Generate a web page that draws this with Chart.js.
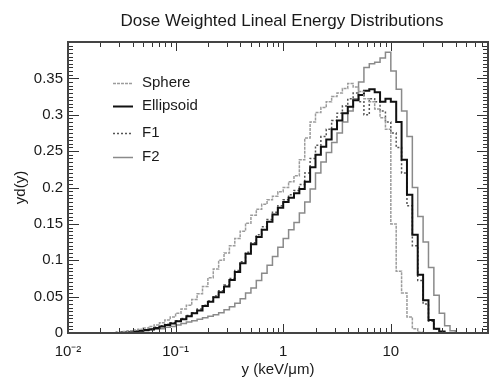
<!DOCTYPE html>
<html>
<head>
<meta charset="utf-8">
<script src="https://cdn.jsdelivr.net/npm/chart.js@4"></script>
<style>
  html, body { margin: 0; padding: 0; background: #fff; }
  #wrap { width: 492px; height: 380px; }
</style>
</head>
<body>
<div id="wrap"><canvas id="chart" width="492" height="380"></canvas></div>
<script>
// histogram bins: log10(y) from -1.6 in steps of 0.05 (20 bins per decade)
const BIN_START = -1.6;
const BIN_STEP = 0.05;

const sphere = [
  0.000, 0.001, 0.002, 0.003, 0.004, 0.005, 0.007, 0.009,
  0.011, 0.014, 0.018, 0.022, 0.027, 0.033, 0.038, 0.046,
  0.054, 0.064, 0.076, 0.088, 0.100, 0.110, 0.120, 0.130,
  0.140, 0.151, 0.162, 0.170, 0.177, 0.183, 0.188, 0.194,
  0.200, 0.208, 0.216, 0.238, 0.268, 0.290, 0.303, 0.310,
  0.318, 0.325, 0.330, 0.336, 0.343, 0.338, 0.332, 0.322,
  0.318, 0.308, 0.296, 0.280, 0.150, 0.085, 0.055, 0.022,
  0.006, 0.001, 0, 0, 0, 0, 0, 0,
  0
];
const ellipsoid = [
  0.000, 0.000, 0.001, 0.001, 0.002, 0.003, 0.004, 0.005,
  0.007, 0.009, 0.011, 0.013, 0.016, 0.019, 0.023, 0.027,
  0.031, 0.037, 0.043, 0.049, 0.056, 0.064, 0.073, 0.084,
  0.096, 0.109, 0.122, 0.132, 0.142, 0.153, 0.163, 0.172,
  0.180, 0.186, 0.192, 0.198, 0.208, 0.228, 0.245, 0.256,
  0.266, 0.280, 0.292, 0.302, 0.311, 0.320, 0.327, 0.333,
  0.335, 0.331, 0.318, 0.322, 0.318, 0.290, 0.238, 0.190,
  0.135, 0.080, 0.045, 0.018, 0.006, 0.002, 0, 0,
  0
];
const f1 = [
  0.000, 0.001, 0.001, 0.002, 0.002, 0.003, 0.004, 0.006,
  0.008, 0.010, 0.012, 0.014, 0.017, 0.020, 0.024, 0.028,
  0.033, 0.038, 0.044, 0.051, 0.058, 0.066, 0.075, 0.086,
  0.098, 0.111, 0.124, 0.135, 0.146, 0.156, 0.166, 0.175,
  0.183, 0.190, 0.196, 0.204, 0.220, 0.240, 0.258, 0.270,
  0.280, 0.292, 0.302, 0.312, 0.322, 0.330, 0.318, 0.300,
  0.322, 0.318, 0.305, 0.290, 0.275, 0.255, 0.220, 0.175,
  0.120, 0.072, 0.040, 0.016, 0.005, 0.001, 0, 0,
  0
];
const f2 = [
  0.000, 0.000, 0.001, 0.001, 0.002, 0.002, 0.003, 0.004,
  0.005, 0.006, 0.008, 0.009, 0.011, 0.013, 0.015, 0.017,
  0.019, 0.021, 0.023, 0.025, 0.028, 0.032, 0.036, 0.041,
  0.047, 0.055, 0.062, 0.072, 0.082, 0.093, 0.105, 0.118,
  0.130, 0.142, 0.152, 0.165, 0.180, 0.198, 0.220, 0.235,
  0.248, 0.262, 0.275, 0.290, 0.305, 0.322, 0.345, 0.365,
  0.370, 0.372, 0.378, 0.386, 0.360, 0.335, 0.305, 0.270,
  0.200, 0.160, 0.125, 0.090, 0.052, 0.027, 0.010, 0.003,
  0
];

const X_TICKS = [0.01, 0.1, 1, 10];
const X_LABELS = ['10\u207B\u00B2', '10\u207B\u00B9', '1', '10'];
const Y_TICKS = [0, 0.05, 0.1, 0.15, 0.2, 0.25, 0.3, 0.35, 0.4];
const Y_LABELS = ['0', '0.05', '0.1', '0.15', '0.2', '0.25', '0.3', '0.35', ''];

const X_MIN = 0.01, X_MAX = 80;
const FONT = "'Liberation Sans', Arial, Helvetica, sans-serif";

function toPoints(vals) {
  const pts = [{ x: X_MIN, y: 0 }];
  vals.forEach((v, i) => pts.push({ x: Math.pow(10, BIN_START + BIN_STEP * i), y: v }));
  pts.push({ x: Math.pow(10, BIN_START + BIN_STEP * vals.length), y: 0 });
  pts.push({ x: X_MAX, y: 0 });
  return pts;
}

function series(label, vals, color, width, dash) {
  return {
    label: label,
    data: toPoints(vals),
    borderColor: color,
    borderWidth: width,
    borderDash: dash,
    stepped: true,
    pointRadius: 0,
    fill: false
  };
}

// ticks inside the box on all four sides, plus frame, title and legend
const boxPlugin = {
  id: 'box',
  afterDatasetsDraw(chart) {
    const { ctx, chartArea: a, scales } = chart;
    ctx.save();
    ctx.strokeStyle = '#333';
    ctx.lineWidth = 1;
    ctx.beginPath();
    for (let d = -2; d <= 1; d++) {
      for (let m = 1; m <= 9; m++) {
        const v = m * Math.pow(10, d);
        if (v < X_MIN || v > X_MAX) continue;
        const px = Math.round(scales.x.getPixelForValue(v)) + 0.5;
        const len = m === 1 ? 9 : 5;
        ctx.moveTo(px, a.bottom); ctx.lineTo(px, a.bottom - len);
        ctx.moveTo(px, a.top); ctx.lineTo(px, a.top + len);
      }
    }
    for (let i = 0; i <= 80; i++) {
      const py = Math.round(scales.y.getPixelForValue(i * 0.005)) + 0.5;
      const len = i % 10 === 0 ? 11 : 5;
      ctx.moveTo(a.left, py); ctx.lineTo(a.left + len, py);
      ctx.moveTo(a.right, py); ctx.lineTo(a.right - len, py);
    }
    ctx.stroke();
    ctx.lineWidth = 2;
    ctx.strokeStyle = '#444';
    ctx.strokeRect(a.left, a.top, a.right - a.left, a.bottom - a.top);
    ctx.restore();
  },
  afterDraw(chart) {
    const { ctx, chartArea: a } = chart;
    ctx.save();
    ctx.fillStyle = '#1a1a1a';
    ctx.font = '17px ' + FONT;
    ctx.textAlign = 'center';
    ctx.textBaseline = 'middle';
    ctx.fillText('Dose Weighted Lineal Energy Distributions', (a.left + a.right) / 2 + 4, 21);

    const rows = [83, 106, 133, 157];
    ctx.font = '15px ' + FONT;
    ctx.textAlign = 'left';
    chart.data.datasets.forEach((ds, i) => {
      const y = rows[i] + 0.5;
      ctx.strokeStyle = ds.borderColor;
      ctx.lineWidth = ds.borderWidth;
      ctx.setLineDash(ds.borderDash || []);
      ctx.beginPath();
      ctx.moveTo(113, y);
      ctx.lineTo(133, y);
      ctx.stroke();
      ctx.fillText(ds.label, 142, rows[i]);
    });
    ctx.restore();
  }
};

Chart.defaults.font.family = FONT;
Chart.defaults.font.size = 15;
Chart.defaults.color = '#1a1a1a';

new Chart(document.getElementById('chart'), {
  type: 'line',
  data: {
    datasets: [
      series('Sphere', sphere, '#9c9c9c', 1.5, [3, 1]),
      series('Ellipsoid', ellipsoid, '#111', 2, []),
      series('F1', f1, '#555', 1.5, [2, 2]),
      series('F2', f2, '#8a8a8a', 1.5, [])
    ]
  },
  options: {
    responsive: false,
    animation: false,
    devicePixelRatio: 1,
    layout: { padding: { top: 42, right: 4, left: 0, bottom: 0 } },
    plugins: { legend: { display: false }, tooltip: { enabled: false } },
    scales: {
      x: {
        type: 'logarithmic',
        min: X_MIN,
        max: X_MAX,
        afterBuildTicks: s => { s.ticks = X_TICKS.map(v => ({ value: v })); },
        afterFit: s => { s.height = 47; },
        ticks: {
          autoSkip: false,
          maxRotation: 0,
          padding: 10,
          callback: (v, i) => X_LABELS[i]
        },
        grid: { display: false, drawTicks: false },
        border: { display: false },
        title: { display: true, text: 'y (keV/\u03BCm)', padding: { top: 0, bottom: 1 } }
      },
      y: {
        type: 'linear',
        min: 0,
        max: 0.4,
        afterBuildTicks: s => { s.ticks = Y_TICKS.map(v => ({ value: v })); },
        afterFit: s => { s.width = 68; },
        ticks: {
          padding: 5,
          callback: (v, i) => Y_LABELS[i]
        },
        grid: { display: false, drawTicks: false },
        border: { display: false },
        title: { display: true, text: 'yd(y)', padding: { top: 12, bottom: 0 } }
      }
    }
  },
  plugins: [boxPlugin]
});
</script>
</body>
</html>
